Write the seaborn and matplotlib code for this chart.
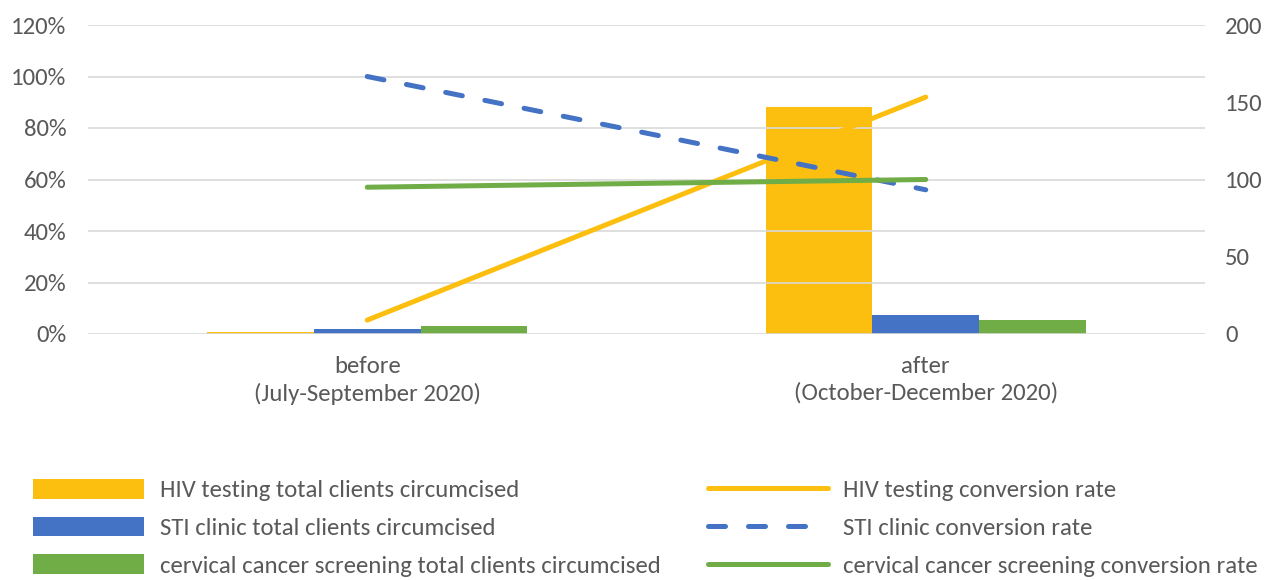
import matplotlib
matplotlib.use("Agg")
import matplotlib.pyplot as plt
import seaborn as sns
import pandas as pd
from matplotlib.patches import Patch
from matplotlib.lines import Line2D
from matplotlib.ticker import FuncFormatter

periods = ["before\n(July-September 2020)", "after\n(October-December 2020)"]
services = ["HIV testing", "STI clinic", "cervical cancer screening"]
hiv_clients = [1, 147]
sti_clients = [3, 12]
cc_clients = [5, 9]
hiv_rate = [5.4, 92]
sti_rate = [100, 56]
cc_rate = [57, 60]

colors = ["#FCBF10", "#4472C4", "#70AD47"]
text_color = "#595959"
grid_color = "#D9D9D9"

sns.set_theme(style="white")
plt.rcParams["font.family"] = ["Carlito", "DejaVu Sans"]
FS = 17.8

bars = pd.DataFrame({
    "period": periods * 3,
    "service": sum([[s] * 2 for s in services], []),
    "clients": hiv_clients + sti_clients + cc_clients,
})
rates = pd.DataFrame({
    "x": [0, 1] * 3,
    "service": sum([[s] * 2 for s in services], []),
    "rate": hiv_rate + sti_rate + cc_rate,
})

fig = plt.figure(figsize=(12.76, 5.8), dpi=100)
ax = fig.add_axes([88 / 1276, 1 - 334 / 580, (1205 - 88) / 1276, (334 - 25) / 580])
ax2 = ax.twinx()

sns.barplot(data=bars, x="period", y="clients", hue="service", palette=colors,
            width=0.573, gap=0, ax=ax2, legend=False, saturation=1, linewidth=0)

sns.lineplot(data=rates, x="x", y="rate", hue="service", style="service",
             palette=colors, dashes={services[0]: "", services[1]: (3.4, 4.6), services[2]: ""},
             linewidth=3.6, ax=ax, legend=False)
for ln in ax.get_lines():
    ln.set_solid_capstyle("round")
    ln.set_dash_capstyle("round")

ax.set_zorder(ax2.get_zorder() + 1)
ax.patch.set_visible(False)

ax.set_xlim(-0.5, 1.5)
ax.set_ylim(0, 120)
ax2.set_ylim(0, 200)
ax.set_yticks(range(0, 121, 20))
ax2.set_yticks(range(0, 201, 50))
ax.yaxis.set_major_formatter(FuncFormatter(lambda v, p: f"{int(v)}%"))
ax.set_xticks([0, 1])
ax.set_xticklabels(periods)
ax.set_xlabel("")
ax.set_ylabel("")
ax2.set_xlabel("")
ax2.set_ylabel("")

ax.grid(axis="y", color=grid_color, linewidth=1.2)
ax.set_axisbelow(True)
ax2.grid(False)
for a in (ax, ax2):
    for s in a.spines.values():
        s.set_visible(False)
    a.tick_params(length=0, labelsize=FS, colors=text_color)
ax.tick_params(axis="y", pad=15.5)
ax2.tick_params(axis="y", pad=14.5)
ax.tick_params(axis="x", pad=16)
for t in ax.get_xticklabels():
    t.set_linespacing(1.3)

bar_handles = [Patch(facecolor=c, edgecolor="none") for c in colors]
bar_labels = [f"{s} total clients circumcised" for s in services]
leg1 = fig.legend(bar_handles, bar_labels, loc="upper left",
                  bbox_to_anchor=(33 / 1276, 1 - 479 / 580), frameon=False,
                  fontsize=FS, handlelength=4.5, handleheight=0.85,
                  handletextpad=0.62, labelspacing=0.62, borderpad=0, borderaxespad=0,
                  labelcolor=text_color)
line_handles = [
    Line2D([], [], color=colors[0], lw=3.6, solid_capstyle="round"),
    Line2D([], [], color=colors[1], lw=3.6, dashes=(3.4, 4.6), dash_capstyle="round"),
    Line2D([], [], color=colors[2], lw=3.6, solid_capstyle="round"),
]
line_labels = [f"{s} conversion rate" for s in services]
leg2 = fig.legend(line_handles, line_labels, loc="upper left",
                  bbox_to_anchor=(708 / 1276, 1 - 479 / 580), frameon=False,
                  fontsize=FS, handlelength=4.85, handleheight=0.85,
                  handletextpad=0.6, labelspacing=0.62, borderpad=0, borderaxespad=0,
                  labelcolor=text_color)

fig.savefig("out.png", dpi=100)
